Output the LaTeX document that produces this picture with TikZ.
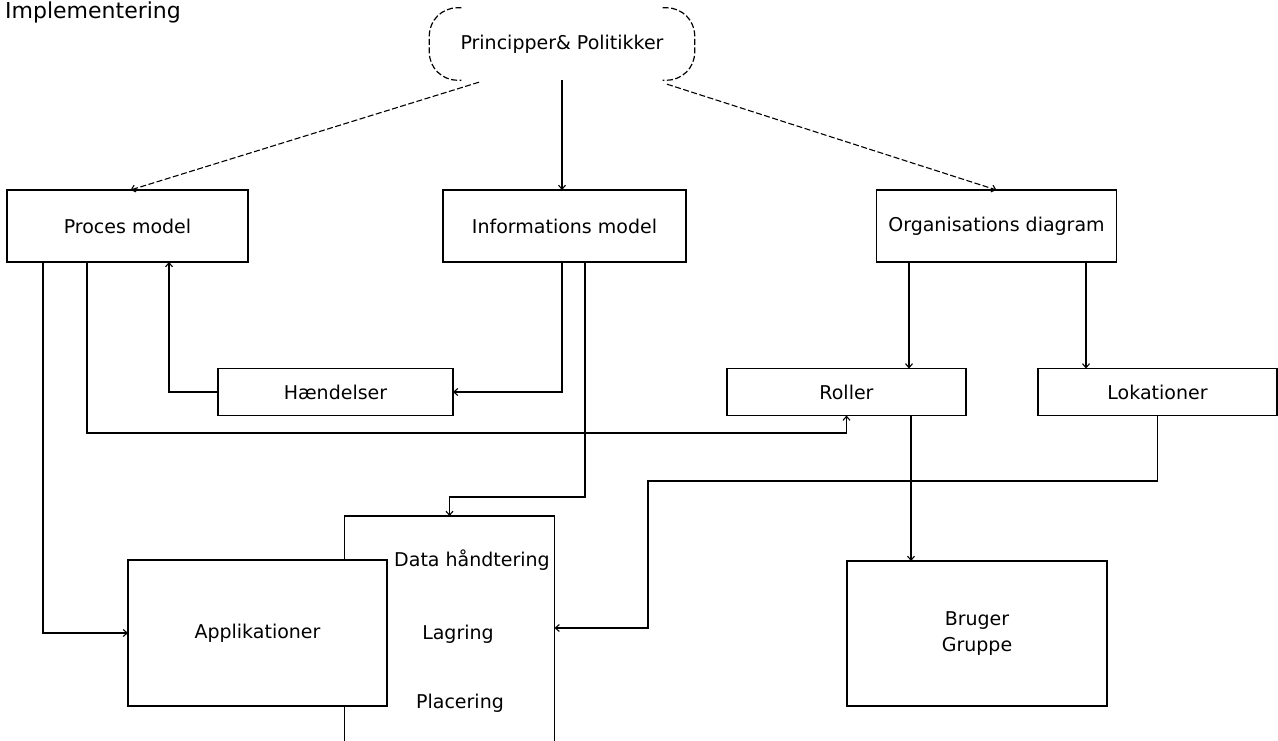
\documentclass[tikz,border=0pt]{standalone}
\usepackage{fontspec}
\setmainfont{DejaVu Sans}
\usetikzlibrary{positioning,arrows.meta}

\begin{document}
\begin{tikzpicture}[x=1pt, y=-1pt,
      box/.style={draw, line width=1.2pt, fill=white, inner sep=2pt, outer sep=0pt, align=center, font=\fontsize{19}{26}\selectfont},
      lbl/.style={inner sep=0pt, font=\fontsize{19}{26}\selectfont},
      cloudside/.style={line width=1.2pt, dash pattern=on 6pt off 2.5pt, rounded corners=28pt},
      rel/.style={-{Straight Barb[length=4pt,width=7pt]}, line width=1.1pt},
      dashrel/.style={rel, dash pattern=on 6pt off 2.5pt}
    ]
    \useasboundingbox (0,0) rectangle (1278,741);

    \node[lbl, anchor=west, font=\fontsize{22}{26}\selectfont] (title) at (5,12) {Implementering};
    \node[lbl, minimum width=265pt, minimum height=72pt] (princ) at (562,44) {Principper\& Politikker};
    \draw[cloudside] ([xshift=32pt]princ.north west) -- (princ.north west) -- (princ.south west) -- ([xshift=32pt]princ.south west);
    \draw[cloudside] ([xshift=-32pt]princ.north east) -- (princ.north east) -- (princ.south east) -- ([xshift=-32pt]princ.south east);

    \node[box, minimum width=241pt, minimum height=72pt] (proces) at (127.5,226) {Proces model};
    \node[box, minimum width=243pt, minimum height=72pt] (info) at (564.5,226) {Informations model};
    \node[box, minimum width=240pt, minimum height=72pt] (org) at (996.5,226) {Organisations diagram};
    \node[box, minimum width=235pt, minimum height=47pt] (haend) at (335.5,392) {Hændelser};
    \node[box, minimum width=239pt, minimum height=47pt] (roller) at (846.5,392) {Roller};
    \node[box, minimum width=239pt, minimum height=47pt, right=72pt of roller] (lok) {Lokationer};
    \node[box, minimum width=210pt, minimum height=250pt] (data) at (449.5,641) {};
    \node[box, minimum width=259pt, minimum height=146pt] (appl) at (257.5,633) {Applikationer};
    \node[lbl] (datatitle) at (472,560) {Data håndtering};
    \node[lbl] (lagring) at (458,634) {Lagring};
    \node[lbl] (placering) at (460,703) {Placering};
    \node[box, minimum width=260pt, minimum height=145pt] (bruger) at (977,633.5) {Bruger\\Gruppe};

    % lanes for the elbow connectors
    \coordinate (laneA) at (43,633);
    \coordinate (laneB) at (87,433);
    \coordinate (laneC) at (169,392);
    \coordinate (laneD) at (562,392);
    \coordinate (laneE) at (585,497);
    \coordinate (laneF) at (909,300);
    \coordinate (laneG) at (1086,300);
    \coordinate (laneH) at (911,481);
    \coordinate (laneI) at (648,481);
    \coordinate (laneJ) at (648,628);

    \draw[dashrel] ([xshift=-83pt,yshift=-2pt]princ.south) -- ([xshift=3pt]proces.north);
    \draw[rel] (princ.south) -- (princ.south |- info.north);
    \draw[dashrel] ([xshift=105pt,yshift=-4pt]princ.south) -- (org.north);
    \draw[rel] (haend.west) -| (proces.south -| laneC);
    \draw[rel] (info.south -| laneD) |- (haend.east);
    \draw[rel] (proces.south -| laneB) -- (laneB) -| (roller.south);
    \draw[rel] (info.south -| laneE) -- (laneE) -| (data.north);
    \draw[rel] (proces.south -| laneA) |- (appl.west);
    \draw[rel] (org.south -| laneF) -- (roller.north -| laneF);
    \draw[rel] (org.south -| laneG) -- (lok.north -| laneG);
    \draw[rel] (roller.south -| laneH) -- (bruger.north -| laneH);
    \draw[rel] (lok.south) |- (laneI) -- (laneJ) -- (laneJ -| data.east);
  \end{tikzpicture}
\end{document}
